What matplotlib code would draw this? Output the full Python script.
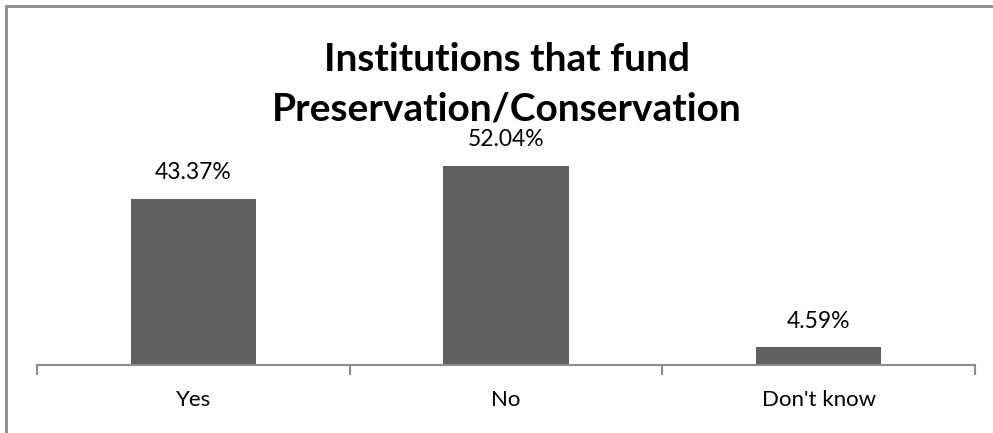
import matplotlib
matplotlib.use("Agg")
import matplotlib.pyplot as plt
from matplotlib.patches import Rectangle

# Chart data
categories = ["Yes", "No", "Don't know"]
percentages = [43.37, 52.04, 4.59]
title = "Institutions that fund\nPreservation/Conservation"

BAR_COLOR = "#606060"
AXIS_COLOR = "#8c8c8c"
FONT = ["Lato", "DejaVu Sans"]

fig = plt.figure(figsize=(9.93, 4.33), dpi=100)
ax = fig.add_axes([37 / 993, 1 - 365 / 433, (975 - 37) / 993, 230 / 433])

x = range(len(categories))
bars = ax.bar(x, percentages, width=0.4, color=BAR_COLOR)

ax.set_xlim(-0.5, len(categories) - 0.5)
ax.set_ylim(0, 60)

# data labels
for rect, val in zip(bars, percentages):
    ax.annotate(f"{val:.2f}%", (rect.get_x() + rect.get_width() / 2, val),
                xytext=(0, 11), textcoords="offset points",
                ha="center", va="bottom", fontsize=16.5, family=FONT)

# category axis in Excel style: ticks between categories
ax.set_yticks([])
for side in ["left", "right", "top"]:
    ax.spines[side].set_visible(False)
ax.spines["bottom"].set_color(AXIS_COLOR)
ax.spines["bottom"].set_linewidth(1.5)
ax.set_xticks([i - 0.5 for i in range(len(categories) + 1)], minor=False)
ax.set_xticklabels([])
ax.tick_params(axis="x", which="major", direction="out", length=7,
               width=1.5, color=AXIS_COLOR)
ax.set_xticks(list(x), minor=True)
ax.set_xticklabels(categories, minor=True, fontsize=16, family=FONT)
ax.tick_params(axis="x", which="minor", length=0, pad=18)

fig.text(507 / 993, 1 - 84 / 433, title, ha="center", va="center",
         fontsize=28, fontweight="bold", family=FONT, linespacing=1.5)

# chart area border (only top/left visible in frame)
fig.patches.append(Rectangle((5.5 / 993, -0.1), 1.2, 1 - 5.5 / 433 + 0.1,
                             transform=fig.transFigure, fill=False,
                             edgecolor=AXIS_COLOR, linewidth=2))

fig.savefig("out.png", dpi=100)
